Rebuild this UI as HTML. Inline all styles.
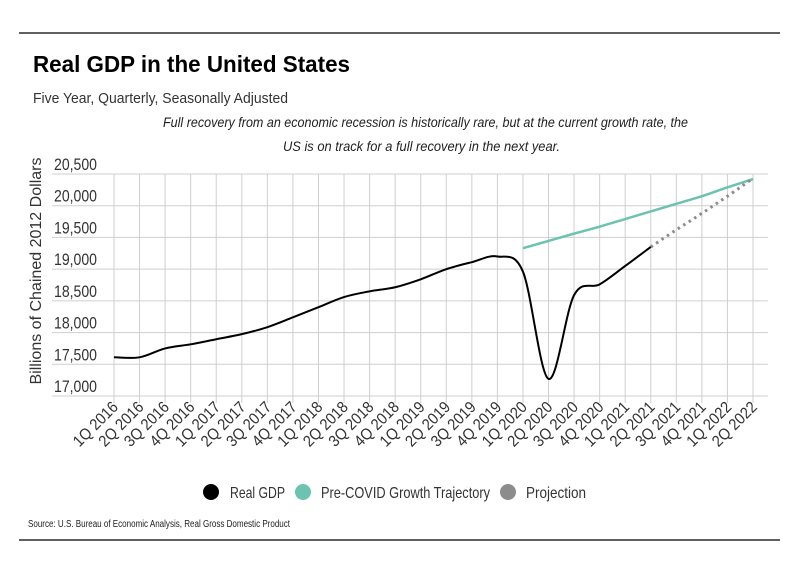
<!DOCTYPE html>
<html><head><meta charset="utf-8">
<style>
body{margin:0;background:#fff;}
svg{display:block;font-family:"Liberation Sans",sans-serif;}
</style></head>
<body>
<svg id="chart" width="799" height="575" viewBox="0 0 799 575">
<line x1="19" y1="33" x2="780" y2="33" stroke="#000" stroke-width="1.2"/>
<line x1="19" y1="540" x2="780" y2="540" stroke="#000" stroke-width="1.2"/>
<text x="33" y="72" font-weight="bold" font-size="23" fill="#000" textLength="317" lengthAdjust="spacingAndGlyphs">Real GDP in the United States</text>
<text x="33" y="103" font-size="15" fill="#333" textLength="255" lengthAdjust="spacingAndGlyphs">Five Year, Quarterly, Seasonally Adjusted</text>
<text x="163" y="127" font-style="italic" font-size="14" fill="#222" textLength="525" lengthAdjust="spacingAndGlyphs">Full recovery from an economic recession is historically rare, but at the current growth rate, the</text>
<text x="283" y="151" font-style="italic" font-size="14" fill="#222" textLength="277" lengthAdjust="spacingAndGlyphs">US is on track for a full recovery in the next year.</text>
<text transform="translate(41,271) rotate(-90)" text-anchor="middle" font-size="16" fill="#333" textLength="227" lengthAdjust="spacingAndGlyphs">Billions of Chained 2012 Dollars</text>
<g id="grid"></g><g id="yt"></g><g id="xt"></g><g id="series"></g>
<g>
<circle cx="211" cy="492" r="8" fill="#000"/>
<text x="230" y="498" font-size="16" fill="#333" textLength="55" lengthAdjust="spacingAndGlyphs">Real GDP</text>
<circle cx="303" cy="492" r="8" fill="#6cc3b0"/>
<text x="321" y="498" font-size="16" fill="#333" textLength="169" lengthAdjust="spacingAndGlyphs">Pre-COVID Growth Trajectory</text>
<circle cx="508" cy="492" r="8" fill="#8c8c8c"/>
<text x="526" y="498" font-size="16" fill="#333" textLength="60" lengthAdjust="spacingAndGlyphs">Projection</text>
</g>
<text x="28" y="527" font-size="10" fill="#222" textLength="262" lengthAdjust="spacingAndGlyphs">Source:  U.S. Bureau of Economic Analysis, Real Gross Domestic Product</text>
</svg>
<script>
const categories=["1Q 2016","2Q 2016","3Q 2016","4Q 2016","1Q 2017","2Q 2017","3Q 2017","4Q 2017","1Q 2018","2Q 2018","3Q 2018","4Q 2018","1Q 2019","2Q 2019","3Q 2019","4Q 2019","1Q 2020","2Q 2020","3Q 2020","4Q 2020","1Q 2021","2Q 2021","3Q 2021","4Q 2021","1Q 2022","2Q 2022"];
const realGdp=[17610,17610,17750,17815,17895,17975,18085,18240,18400,18560,18650,18715,18840,19000,19110,19200,18960,17270,18590,18760,19050,19350];
const trajectory=[19330,19445,19560,19670,19790,19910,20030,20150,20290,20420];
const trajectoryStart=16;
const projection=[19350,19620,19880,20150,20430];
const projectionStart=21;
const yTicks=[17000,17500,18000,18500,19000,19500,20000,20500];
const yTickLabels=["17,000","17,500","18,000","18,500","19,000","19,500","20,000","20,500"];

const NS="http://www.w3.org/2000/svg";
const x=i=>114+i*(753-114)/(categories.length-1);
const y=v=>396-(v-17000)*(396-174)/3500;
function mk(tag,attrs,parent){const e=document.createElementNS(NS,tag);for(const k in attrs)e.setAttribute(k,attrs[k]);parent.appendChild(e);return e;}
const grid=document.getElementById('grid'),yt=document.getElementById('yt'),xt=document.getElementById('xt'),ser=document.getElementById('series');
yTicks.forEach((t,i)=>{
  const l=mk('line',{x1:52,x2:768,y1:y(t),y2:y(t),stroke:'#cfcfcf','stroke-width':1},grid);
  
  
  const tx=mk('text',{x:54,y:y(t)-4,'font-size':17,fill:'#333',textLength:43,lengthAdjust:'spacingAndGlyphs'},yt);
  tx.textContent=yTickLabels[i];
  
  
});
categories.forEach((c,i)=>{
  const l=mk('line',{x1:x(i),x2:x(i),y1:174,y2:403,stroke:'#cfcfcf','stroke-width':1},grid);
  
  
  const tx=mk('text',{transform:`translate(${x(i)+5},${408}) rotate(-45)`,'text-anchor':'end','font-size':16,fill:'#333',textLength:56,lengthAdjust:'spacingAndGlyphs'},xt);
  tx.textContent=c;
  
  
});
function smooth(pts){
  let d=`M${pts[0][0]},${pts[0][1]}`;
  for(let i=0;i<pts.length-1;i++){
    const p0=pts[Math.max(0,i-1)],p1=pts[i],p2=pts[i+1],p3=pts[Math.min(pts.length-1,i+2)];
    const c1=[p1[0]+(p2[0]-p0[0])/6,p1[1]+(p2[1]-p0[1])/6];
    const c2=[p2[0]-(p3[0]-p1[0])/6,p2[1]-(p3[1]-p1[1])/6];
    d+=` C${c1[0]},${c1[1]} ${c2[0]},${c2[1]} ${p2[0]},${p2[1]}`;
  }
  return d;
}
const tp=mk('path',{d:smooth(trajectory.map((v,i)=>[x(i+trajectoryStart),y(v)])),fill:'none',stroke:'#6cc3b0','stroke-width':2.5},ser);


const pp=mk('path',{d:smooth(projection.map((v,i)=>[x(i+projectionStart),y(v)])),fill:'none',stroke:'#8c8c8c','stroke-width':3,'stroke-dasharray':'2.5 4'},ser);


const rp=mk('path',{d:smooth(realGdp.map((v,i)=>[x(i),y(v)])),fill:'none',stroke:'#000','stroke-width':2},ser);


</script>
</body></html>
